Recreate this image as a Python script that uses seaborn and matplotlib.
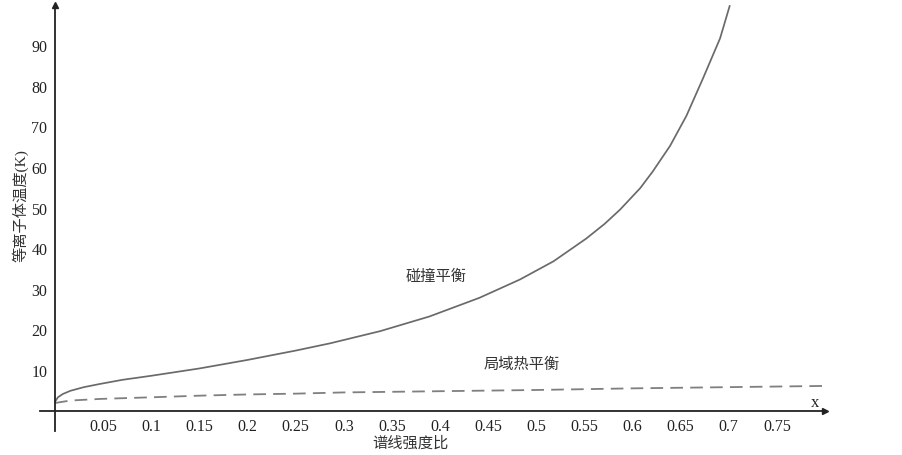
import matplotlib
matplotlib.use("Agg")
import matplotlib.pyplot as plt
import seaborn as sns
import pandas as pd

# Data
collision_x = [0.0, 0.003, 0.008, 0.016, 0.03, 0.047, 0.07, 0.1, 0.15, 0.2, 0.25, 0.286,
               0.338, 0.389, 0.441, 0.483, 0.518, 0.552, 0.571, 0.587, 0.608, 0.621,
               0.639, 0.656, 0.673, 0.691, 0.701]
collision_y = [2.2, 3.3, 4.1, 4.9, 5.8, 6.6, 7.6, 8.6, 10.4, 12.5, 14.8, 16.6,
               19.6, 23.2, 27.8, 32.3, 36.8, 42.4, 46.0, 49.5, 54.8, 58.9,
               65.2, 72.6, 81.7, 91.7, 99.7]
lte_x = [0.0, 0.016, 0.047, 0.1, 0.15, 0.2, 0.25, 0.3, 0.4, 0.5, 0.6, 0.7, 0.8]
lte_y = [1.9, 2.5, 2.9, 3.3, 3.7, 4.0, 4.2, 4.5, 4.8, 5.1, 5.5, 5.8, 6.1]

x_ticks = [0.05, 0.1, 0.15, 0.2, 0.25, 0.3, 0.35, 0.4, 0.45, 0.5, 0.55, 0.6, 0.65, 0.7, 0.75]
x_tick_labels = ["0.05", "0.1", "0.15", "0.2", "0.25", "0.3", "0.35", "0.4", "0.45",
                 "0.5", "0.55", "0.6", "0.65", "0.7", "0.75"]
y_ticks = [10, 20, 30, 40, 50, 60, 70, 80, 90]
y_tick_labels = ["10", "20", "30", "40", "50", "60", "70", "80", "90"]

label_collision = "碰撞平衡"
label_lte = "局域热平衡"
x_label = "谱线强度比"
y_label = "等离子体温度(K)"

sns.set_theme(style="white")
plt.rcParams['font.family'] = ['Liberation Serif', 'Noto Sans CJK SC', 'DejaVu Sans']

fig = plt.figure(figsize=(9.03, 4.56), dpi=100)
ax = fig.add_axes([40/903, 1 - 432/456, (825-40)/903, (432-5.6)/456])

df_c = pd.DataFrame({"x": collision_x, "y": collision_y})
df_l = pd.DataFrame({"x": lte_x, "y": lte_y})
sns.lineplot(data=df_c, x="x", y="y", ax=ax, color="#6a6a6a", linewidth=1.25)
sns.lineplot(data=df_l, x="x", y="y", ax=ax, color="#7f7f7f", linewidth=1.3,
             linestyle=(0, (7, 4)))

ax.set_xlim(-0.0156, 0.8)
ax.set_ylim(-5, 100)
ax.set_facecolor("white")

for s in ["top", "right"]:
    ax.spines[s].set_visible(False)
ax.spines["left"].set_position(("data", 0))
ax.spines["bottom"].set_position(("data", 0))
for s in ["left", "bottom"]:
    ax.spines[s].set_color("#222222")
    ax.spines[s].set_linewidth(1.3)

ax.set_xticks(x_ticks)
ax.set_xticklabels(x_tick_labels)
ax.set_yticks(y_ticks)
ax.set_yticklabels(y_tick_labels)
ax.tick_params(axis="both", direction="inout", length=7, width=1.0, color="#222222",
               labelsize=11.5, labelcolor="#222222", pad=2)
ax.set_xlabel("")
ax.set_ylabel("")

# axis arrows
ax.plot(1, 0, ">", color="#222222", markersize=5, transform=ax.get_yaxis_transform(),
        clip_on=False)
ax.plot(0, 1, "^", color="#222222", markersize=5, transform=ax.get_xaxis_transform(),
        clip_on=False)

fig.text(815/903, 1 - 403/456, "x", ha="center", va="center", fontsize=12,
         color="#222222", family=["Liberation Serif"])
fig.text(410/903, 1 - 443/456, x_label, ha="center", va="center", fontsize=11,
         color="#333333", family=["Noto Sans CJK SC"])
fig.text(20/903, 1 - 206/456, y_label, ha="center", va="center", rotation=90,
         fontsize=11, color="#333333", family=["Liberation Serif", "Noto Sans CJK SC"])

ax.text(0.396, 33.4, label_collision, ha="center", va="center", fontsize=11,
        color="#333333", family=["Noto Sans CJK SC"])
ax.text(0.485, 11.5, label_lte, ha="center", va="center", fontsize=11,
        color="#333333", family=["Noto Sans CJK SC"])

fig.savefig("out.png", dpi=100)
